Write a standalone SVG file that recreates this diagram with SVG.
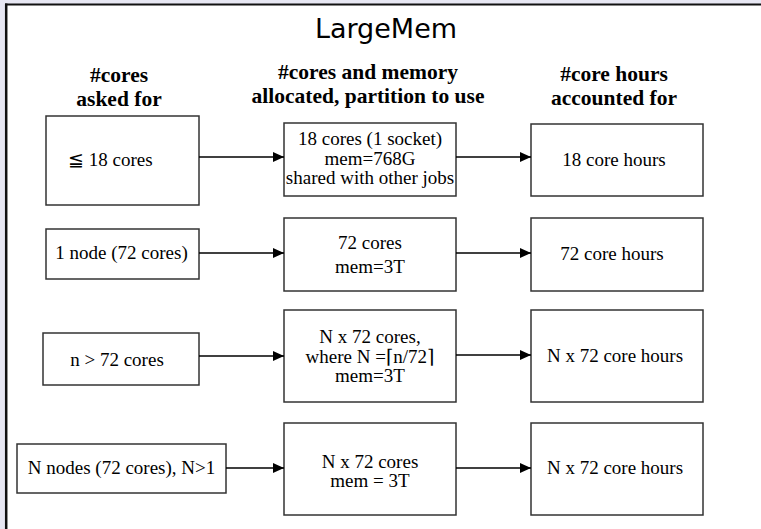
<svg xmlns="http://www.w3.org/2000/svg" width="761" height="529" viewBox="0 0 761 529">
<defs>
<marker id="ah" markerWidth="12" markerHeight="10" refX="11" refY="5" orient="auto" markerUnits="userSpaceOnUse">
<path d="M0,0 L11,5 L0,10 Z" fill="#000"/>
</marker>
<style>
.box{fill:#fff;stroke:#333;stroke-width:1.5}
.t{font-family:'Liberation Serif','Times New Roman','DejaVu Serif',serif;font-size:19px;fill:#000;text-anchor:middle}
.h{font-family:'Liberation Serif','Times New Roman','DejaVu Serif',serif;font-size:21.5px;font-weight:bold;fill:#000;text-anchor:middle}
.ttl{font-family:'DejaVu Sans',sans-serif;font-size:27px;fill:#000;text-anchor:middle}
.c{stroke:#000;stroke-width:1.5;fill:none;marker-end:url(#ah)}
</style>
</defs>
<rect x="0" y="0" width="761" height="529" fill="#e7e7f3"/>
<rect x="6" y="4" width="755" height="525" fill="#fff"/>
<line x1="6.2" y1="3.5" x2="6.2" y2="529" stroke="#111" stroke-width="2.5"/>
<line x1="5" y1="4.5" x2="761" y2="4.5" stroke="#111" stroke-width="2"/>
<text class="ttl" x="386" y="38">LargeMem</text>
<g id="headers" font-family="'Liberation Serif', serif">
<text class="h" x="119" y="82">#cores</text>
<text class="h" x="119" y="106">asked for</text>
<text class="h" x="368" y="79">#cores and memory</text>
<text class="h" x="368" y="103">allocated, partition to use</text>
<text class="h" x="614" y="81">#core hours</text>
<text class="h" x="614" y="105">accounted for</text>
</g>
<g id="req1"><rect class="box" x="46" y="116" width="153" height="89"/><text class="t" x="68" y="166" style="text-anchor:start">≦ 18 cores</text></g>
<g id="alloc1"><rect class="box" x="284" y="123" width="172" height="73"/><text class="t" x="370" y="145">18 cores (1 socket)</text><text class="t" x="370" y="165">mem=768G</text><text class="t" x="370" y="184">shared with other jobs</text></g>
<g id="hours1"><rect class="box" x="531" y="124" width="172" height="72"/><text class="t" x="614" y="166">18 core hours</text></g>
<g id="req2"><rect class="box" x="46" y="229" width="153" height="50"/><text class="t" x="121.5" y="259">1 node (72 cores)</text></g>
<g id="alloc2"><rect class="box" x="284" y="218" width="172" height="73"/><text class="t" x="370" y="249">72 cores</text><text class="t" x="370" y="273">mem=3T</text></g>
<g id="hours2"><rect class="box" x="531" y="218" width="172" height="73"/><text class="t" x="612" y="260">72 core hours</text></g>
<g id="req3"><rect class="box" x="43" y="333" width="156" height="52"/><text class="t" x="117" y="366">n &gt; 72 cores</text></g>
<g id="alloc3"><rect class="box" x="284" y="310" width="172" height="92"/><text class="t" x="370" y="343">N x 72 cores,</text><text class="t" x="370" y="363">where N =⌈n/72⌉</text><text class="t" x="370" y="382">mem=3T</text></g>
<g id="hours3"><rect class="box" x="531" y="310" width="172" height="92"/><text class="t" x="615" y="362">N x 72 core hours</text></g>
<g id="req4"><rect class="box" x="17" y="444" width="209" height="49"/><text class="t" x="121.5" y="474">N nodes (72 cores), N&gt;1</text></g>
<g id="alloc4"><rect class="box" x="284" y="423" width="172" height="92"/><text class="t" x="370" y="468">N x 72 cores</text><text class="t" x="370" y="487">mem = 3T</text></g>
<g id="hours4"><rect class="box" x="531" y="423" width="172" height="92"/><text class="t" x="615" y="474">N x 72 core hours</text></g>
<g id="connectors">
<line class="c" x1="199" y1="157" x2="284" y2="157"/>
<line class="c" x1="456" y1="157" x2="531" y2="157"/>
<line class="c" x1="199" y1="253" x2="284" y2="253"/>
<line class="c" x1="456" y1="253" x2="531" y2="253"/>
<line class="c" x1="199" y1="356" x2="284" y2="356"/>
<line class="c" x1="456" y1="355" x2="531" y2="355"/>
<line class="c" x1="226" y1="468" x2="284" y2="468"/>
<line class="c" x1="456" y1="468" x2="531" y2="468"/>
</g>
</svg>
